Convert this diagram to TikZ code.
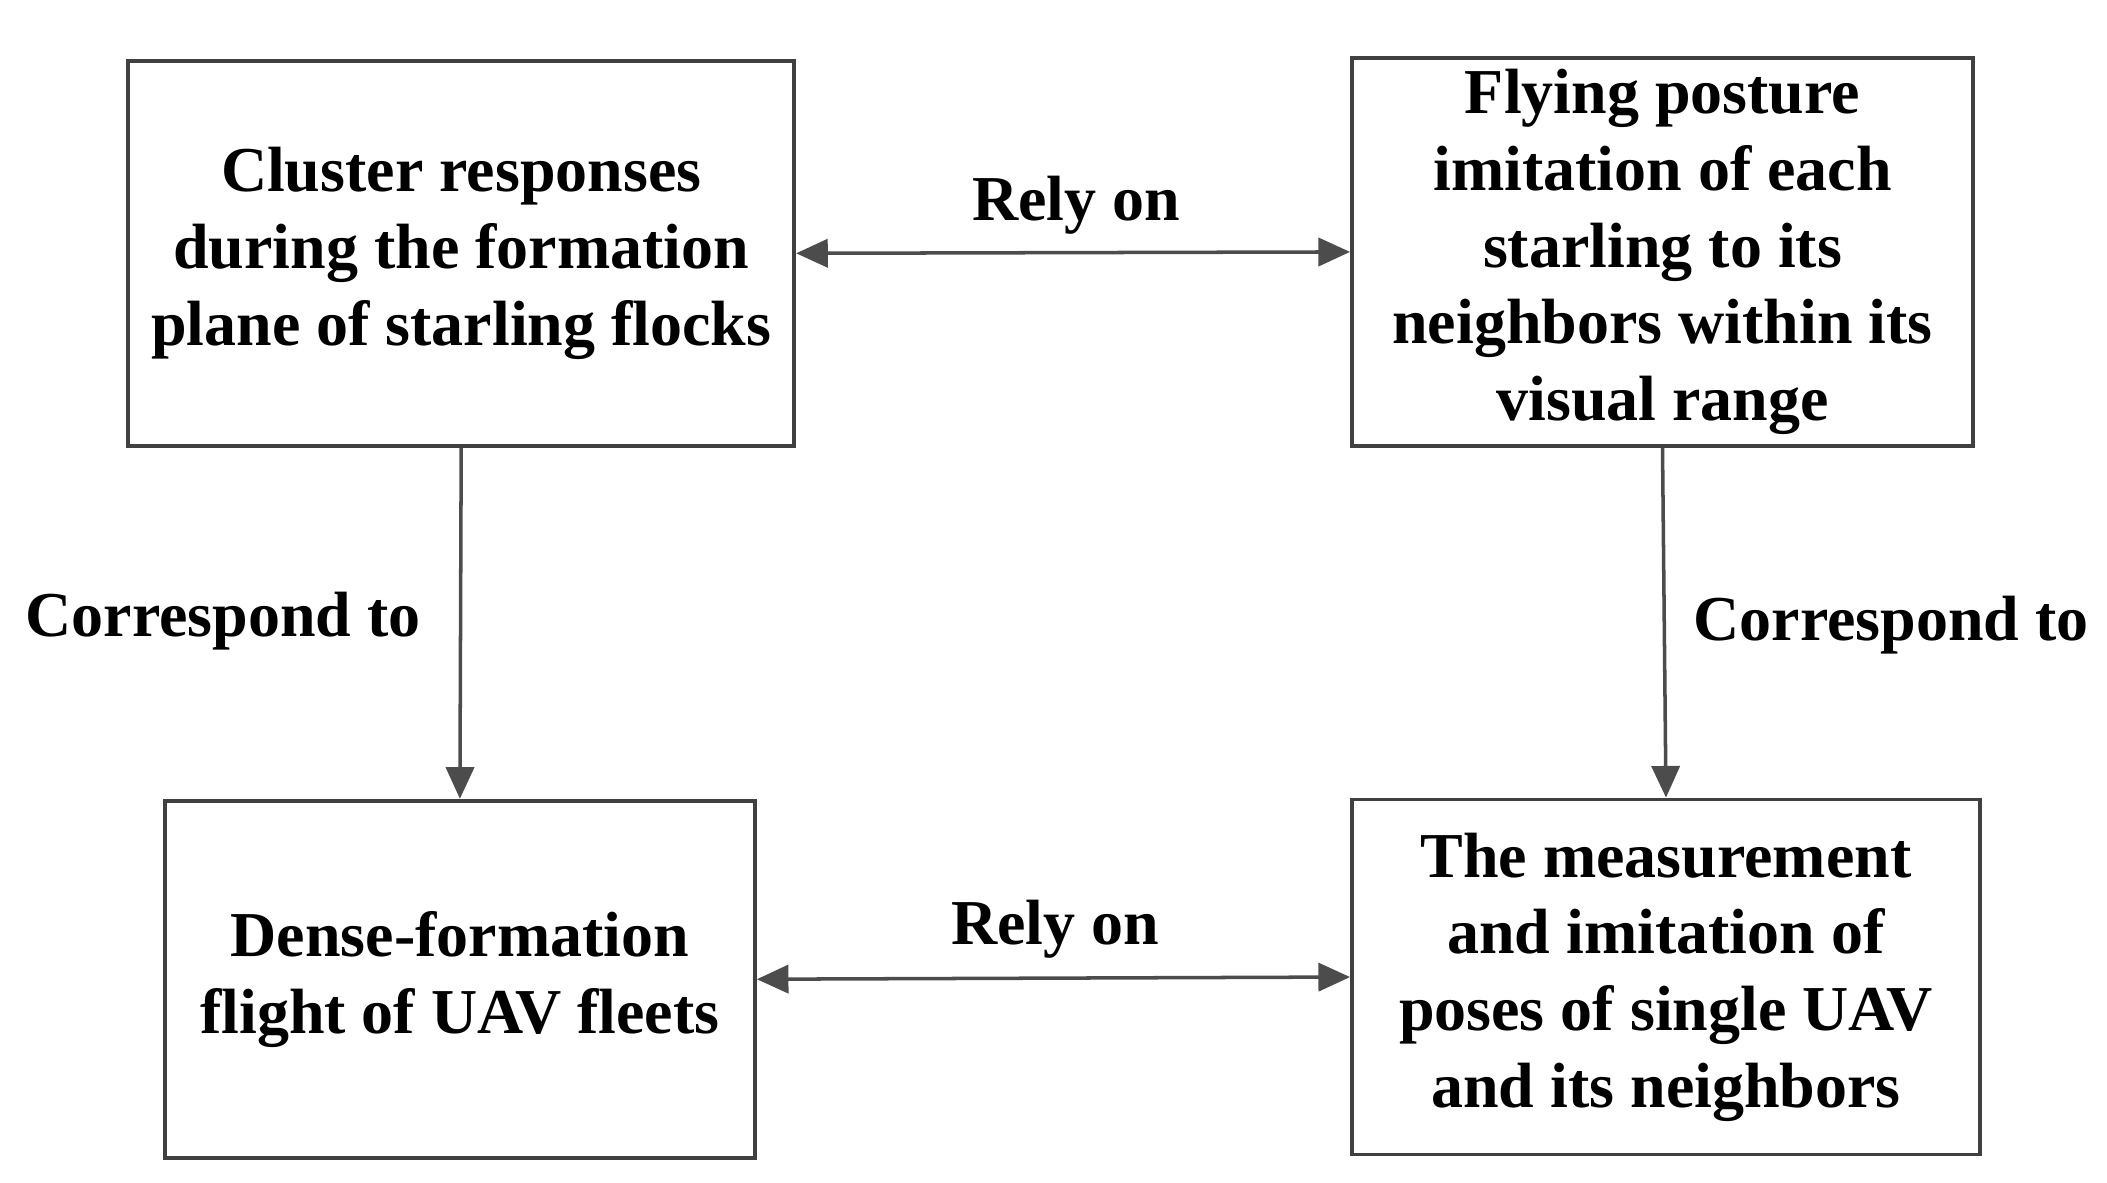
\documentclass[tikz,border=0pt]{standalone}
\usepackage{fontspec}
\setmainfont{Liberation Serif}
\usetikzlibrary{arrows.meta}
\begin{document}
\begin{tikzpicture}[x=1cm,y=-1cm,
  box/.style={draw=black!75,line width=1.1pt,inner sep=0pt,align=center,
    font=\fontsize{18.2}{21.8}\selectfont\bfseries},
  conn/.style={draw=black!70,line width=1pt,-{Triangle[length=9pt,width=8pt]}},
  both/.style={conn,{Triangle[length=9pt,width=8pt]}-{Triangle[length=9pt,width=8pt]}},
  lbl/.style={font=\fontsize{18.2}{21.8}\selectfont\bfseries}]
\useasboundingbox (0,0) rectangle (21.07,11.82);
\node[box,minimum width=6.66cm,minimum height=3.85cm] (A) at (4.612,2.533)
  {Cluster responses\\during the formation\\plane of starling flocks};
\node[box,minimum width=6.21cm,minimum height=3.88cm] (B) at (16.625,2.519)
  {Flying posture\\imitation of each\\starling to its\\neighbors within its\\visual range};
\node[box,minimum width=5.90cm,minimum height=3.57cm] (C) at (4.599,9.792)
  {Dense-formation\\flight of UAV fleets};
\node[box,minimum width=6.28cm,minimum height=3.55cm] (D) at (16.66,9.77)
  {The measurement\\and imitation of\\poses of single UAV\\and its neighbors};
\draw[both] (A.east) -- (B.west);
\draw[both] (C.east) -- (D.west);
\draw[conn] (A.south) -- (C.north);
\draw[conn] (B.south) -- (D.north);
\node[lbl] (r1) at (10.76,2.053) {Rely on};
\node[lbl] (r2) at (10.55,9.29) {Rely on};
\node[lbl] (c1) at (2.23,6.21) {Correspond to};
\node[lbl] (c2) at (18.91,6.25) {Correspond to};
\end{tikzpicture}
\end{document}
